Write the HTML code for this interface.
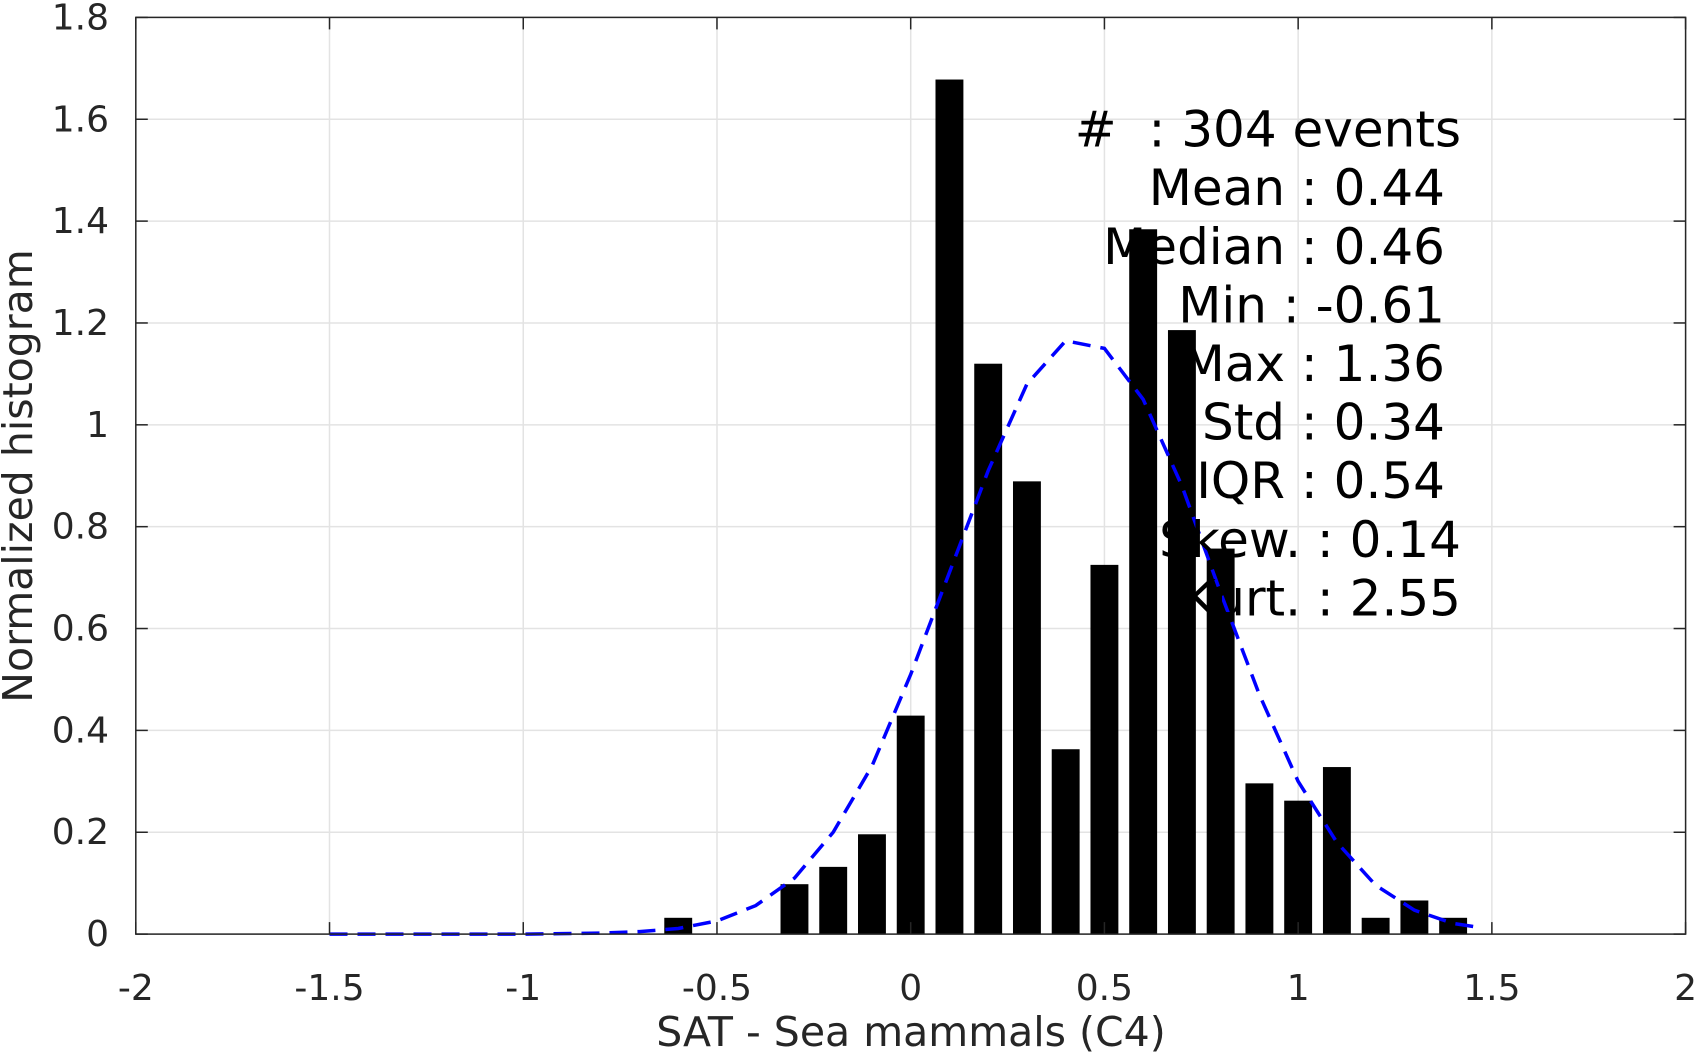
<!DOCTYPE html>
<html><head><meta charset="utf-8"><style>body{margin:0;background:#fff}svg{display:block}text{font-family:"DejaVu Sans","Liberation Sans",sans-serif;fill:#262626}</style></head>
<body>
<svg id="c" width="1703" height="1053" viewBox="0 0 1703 1053" xmlns="http://www.w3.org/2000/svg">
<g id="grid"></g>
<g id="bars"></g>
<path id="fit" fill="none" stroke="#0000ff" stroke-width="3.5" stroke-dasharray="18,10"/>
<g id="axes"></g>
<g id="stats" font-size="50" xml:space="preserve"></g>
<text x="911" y="1046" font-size="41" text-anchor="middle">SAT - Sea mammals (C4)</text>
<text transform="translate(32,476) rotate(-90)" font-size="41" text-anchor="middle">Normalized histogram</text>
</svg>
<script>
const binCenters=[-0.6,-0.3,-0.2,-0.1,0,0.1,0.2,0.3,0.4,0.5,0.6,0.7,0.8,0.9,1.0,1.1,1.2,1.3,1.4];
const binValues=[0.032,0.098,0.132,0.196,0.429,1.678,1.12,0.889,0.363,0.725,1.384,1.186,0.757,0.296,0.262,0.328,0.032,0.066,0.032];
const fitX=[-1.5,-1.4,-1.3,-1.2,-1.1,-1.0,-0.9,-0.8,-0.7,-0.6,-0.5,-0.4,-0.3,-0.2,-0.1,0,0.1,0.2,0.3,0.4,0.5,0.6,0.7,0.8,0.9,1.0,1.1,1.2,1.3,1.4,1.46];
const fitY=[0,0,0,0,0,0,0.001,0.002,0.005,0.011,0.026,0.056,0.11,0.20,0.33,0.51,0.71,0.91,1.08,1.165,1.15,1.05,0.88,0.67,0.47,0.30,0.18,0.096,0.047,0.021,0.014];
const xTicks=[-2,-1.5,-1,-0.5,0,0.5,1,1.5,2];
const yTicks=[0,0.2,0.4,0.6,0.8,1,1.2,1.4,1.6,1.8];
const statLines=[["#  : 304 events",1461],["Mean : 0.44",1445],["Median : 0.46",1445],["Min : -0.61",1445],["Max : 1.36",1445],["Std : 0.34",1445],["IQR : 0.54",1445],["Skew. : 0.14",1461],["Kurt. : 2.55",1461]];
const X0=135.8,X1=1685.6,Y0=934.1,Y1=17.4;
const sx=v=>X0+(v+2)/4*(X1-X0), sy=v=>Y0-v/1.8*(Y0-Y1);
const NS="http://www.w3.org/2000/svg";
function mk(p,t,a){const e=document.createElementNS(NS,t);for(const k in a)e.setAttribute(k,a[k]);p.appendChild(e);return e;}
const grid=document.getElementById('grid'),axes=document.getElementById('axes'),bars=document.getElementById('bars');
xTicks.forEach(t=>{const x=sx(t);
 const g=mk(grid,'line',{x1:x,x2:x,y1:Y1,y2:Y0,stroke:'#e3e3e3','stroke-width':1.5});
 mk(axes,'line',{x1:x,x2:x,y1:Y0,y2:Y0-12,stroke:'#262626','stroke-width':1.5});
 mk(axes,'line',{x1:x,x2:x,y1:Y1,y2:Y1+12,stroke:'#262626','stroke-width':1.5});
 const l=mk(axes,'text',{x:x,y:1000,'font-size':36,'text-anchor':'middle'});l.textContent=t;});
yTicks.forEach(t=>{const y=sy(t);
 const g=mk(grid,'line',{x1:X0,x2:X1,y1:y,y2:y,stroke:'#e3e3e3','stroke-width':1.5});
 mk(axes,'line',{x1:X0,x2:X0+12,y1:y,y2:y,stroke:'#262626','stroke-width':1.5});
 mk(axes,'line',{x1:X1,x2:X1-12,y1:y,y2:y,stroke:'#262626','stroke-width':1.5});
 const l=mk(axes,'text',{x:109,y:y+12,'font-size':36,'text-anchor':'end'});l.textContent=t;});
const fr=mk(axes,'rect',{x:X0,y:Y1,width:X1-X0,height:Y0-Y1,fill:'none',stroke:'#262626','stroke-width':1.5});

const bw=(sx(0.1)-sx(0))*0.72;
binCenters.forEach((c,i)=>{const y=sy(binValues[i]);
 const r=mk(bars,'rect',{x:sx(c)-bw/2,y:y,width:bw,height:Y0-y,fill:'#000'});
 });
document.getElementById('fit').setAttribute('d',fitX.map((x,i)=>(i?'L':'M')+sx(x).toFixed(1)+','+sy(fitY[i]).toFixed(1)).join(''));
const st=document.getElementById('stats');
statLines.forEach((s,i)=>{const t=mk(st,'text',{x:s[1],y:146.6+58.6*i,'text-anchor':'end'});t.textContent=s[0];t.style.fill='#000';t.style.whiteSpace='pre';
 });
</script>
</body></html>
